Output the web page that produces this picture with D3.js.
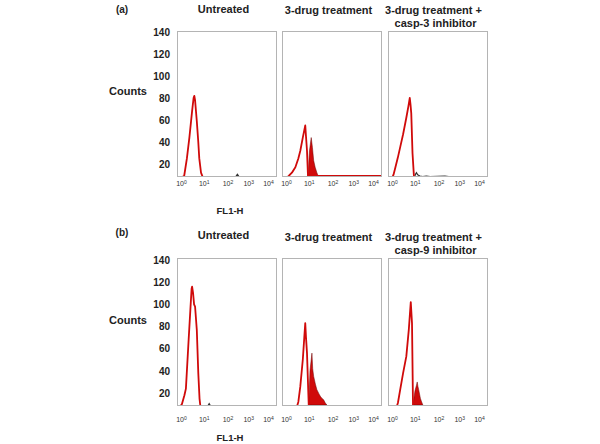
<!DOCTYPE html>
<html><head><meta charset="utf-8">
<script src="https://cdn.jsdelivr.net/npm/d3@7"></script>
<style>
html,body{margin:0;padding:0;background:#fff;}
svg{display:block;font-family:"Liberation Sans",Arial,sans-serif;}
</style></head>
<body><svg id="chart" width="600" height="444"></svg>
<script>
// ---------- data ----------
const rowLabels = ["(a)", "(b)"];
const titlesA = [["Untreated"], ["3-drug treatment"], ["3-drug treatment +", "casp-3 inhibitor"]];
const titlesB = [["Untreated"], ["3-drug treatment"], ["3-drug treatment +", "casp-9 inhibitor"]];
const yTicks = [20, 40, 60, 80, 100, 120, 140];
const xTicks = [1, 10, 100, 1000, 10000];
const xTickExponents = ["0", "1", "2", "3", "4"];
const yLabel = "Counts";
const xLabel = "FL1-H";

// points: [log10(FL1-H), counts]
// row (a)
const a1Line = [[0.20,8],[0.29,9],[0.40,25],[0.50,44],[0.61,68],[0.67,80],[0.70,82],[0.73,78],[0.80,59],[0.86,40],[0.90,25],[0.97,12],[1.04,8]];
const a1Dark = [[2.36,8],[2.44,10.5],[2.52,8]];
const a2Line = [[0.22,8],[0.27,9],[0.40,12],[0.54,17],[0.66,25],[0.74,32],[0.84,44],[0.94,55],[0.97,45],[1.01,32],[1.05,9],[1.50,9],[4.0,9]];
const a2Fill = [[1.05,8],[1.08,20],[1.11,32],[1.18,44],[1.23,35],[1.28,23],[1.34,17],[1.41,12],[1.48,8]];
const a3Line = [[0.18,8],[0.22,10],[0.30,17],[0.40,26],[0.50,36],[0.61,47],[0.74,62],[0.82,72],[0.88,80],[0.91,74],[0.94,66],[0.99,30],[1.05,8]];
const a3Dark = [[1.07,8],[1.11,10.5],[1.15,12],[1.20,10],[1.29,9],[1.40,8.5],[1.55,9],[1.70,8.5],[2.30,9],[2.45,8.5]];
// row (b)
const b1Line = [[0.16,9],[0.20,10],[0.30,18],[0.36,24],[0.47,68],[0.54,95],[0.59,114],[0.61,116],[0.65,110],[0.69,100],[0.73,98],[0.80,77],[0.86,38],[0.91,15],[0.94,9]];
const b1Dark = [[1.26,9],[1.30,10.5],[1.34,9]];
const b2Line = [[0.62,9],[0.66,12],[0.74,26],[0.84,50],[0.90,70],[0.94,83],[0.97,70],[1.01,56],[1.08,9]];
const b2Fill = [[1.08,9],[1.13,40],[1.21,56],[1.24,42],[1.28,35],[1.35,28],[1.41,23],[1.50,19],[1.55,17],[1.62,15],[1.68,14],[1.75,11],[1.82,9]];
const b3Line = [[0.37,9],[0.40,11],[0.50,24],[0.61,38],[0.74,53],[0.84,77],[0.92,102],[0.97,83],[1.01,9]];
const b3Fill = [[1.01,9],[1.05,16],[1.09,22],[1.15,27],[1.18,30],[1.21,26],[1.24,23],[1.31,15],[1.36,12],[1.41,9]];

// ---------- layout ----------
const svg = d3.select("#chart");
const panelLefts = [177, 282, 388];
const panelW = 99;
const rows = [
  {label: rowLabels[0], titles: titlesA, top: 31, bottom: 176, yDom: [9, 141], labY: 9, titleY: [9, 10, 10], xLabY: 184, fl1Y: 210,
   series: [{line: a1Line, dark: a1Dark}, {line: a2Line, fill: a2Fill}, {line: a3Line, dark: a3Dark}]},
  {label: rowLabels[1], titles: titlesB, top: 258, bottom: 405, yDom: [9.2, 141.8], labY: 232, titleY: [235, 237, 237], xLabY: 420, fl1Y: 437,
   series: [{line: b1Line, dark: b1Dark}, {line: b2Line, fill: b2Fill}, {line: b3Line, fill: b3Fill}]}
];
const red = "#d00a0a";

rows.forEach((row, ri) => {
  const g = svg.append("g");
  const y = d3.scaleLinear().domain(row.yDom).range([row.bottom, row.top]);

  g.append("text").attr("x", 122).attr("y", row.labY + 3.5).attr("text-anchor", "middle")
    .attr("font-size", 10).attr("font-weight", "bold").attr("fill", "#222").text(row.label);

  // y axis
  const ya = g.append("g").attr("transform", `translate(${panelLefts[0] - 7},0)`)
    .call(d3.axisLeft(y).tickValues(yTicks).tickSize(0).tickPadding(0));
  ya.select(".domain").remove();
  ya.selectAll("text").attr("font-size", 10).attr("font-weight", "bold").attr("fill", "#222")
    .attr("font-family", "Liberation Sans, Arial, sans-serif");

  g.append("text").attr("x", 128).attr("y", y(80) - 3).attr("text-anchor", "middle")
    .attr("font-size", 11).attr("font-weight", "bold").attr("fill", "#222").text(yLabel);

  g.append("text").attr("x", 230).attr("y", row.fl1Y + 3.5).attr("text-anchor", "middle")
    .attr("font-size", 9.5).attr("font-weight", "bold").attr("fill", "#222").text(xLabel);

  row.titles.forEach((lines, pi) => {
    const cx = panelLefts[pi] + panelW / 2 + (pi === 2 ? -4 : -3);
    lines.forEach((t, li) => {
      g.append("text").attr("x", cx + (li === 1 ? 2 : 0)).attr("y", row.titleY[pi] + 4 + li * 13)
        .attr("text-anchor", "middle").attr("font-size", 11).attr("font-weight", "bold")
        .attr("fill", "#222").text(t);
    });
  });

  panelLefts.forEach((left, pi) => {
    const x = d3.scaleLog().domain([1, 10000]).range([left, left + panelW]);
    const clipId = `clip-${ri}-${pi}`;
    g.append("clipPath").attr("id", clipId).append("rect")
      .attr("x", left).attr("y", row.top).attr("width", panelW).attr("height", row.bottom - row.top);

    // box
    g.append("rect").attr("x", left + 0.5).attr("y", row.top + 0.5).attr("width", panelW)
      .attr("height", row.bottom - row.top).attr("fill", "#fff").attr("stroke", "#b4b4b4").attr("stroke-width", 1);

    const s = row.series[pi];
    const px = d => x(Math.pow(10, d[0]));
    const pg = g.append("g").attr("clip-path", `url(#${clipId})`);
    if (s.fill) {
      pg.append("path").datum(s.fill)
        .attr("d", d3.area().x(px).y0(row.bottom).y1(d => y(d[1])))
        .attr("fill", red).attr("stroke", "#6a0505").attr("stroke-width", 0.5);
    }
    if (s.dark) {
      pg.append("path").datum(s.dark)
        .attr("d", d3.line().x(px).y(d => y(d[1])))
        .attr("fill", "none").attr("stroke", "#333").attr("stroke-width", 1.2);
    }
    pg.append("path").datum(s.line)
      .attr("d", d3.line().x(px).y(d => y(d[1])))
      .attr("fill", "none").attr("stroke", red).attr("stroke-width", 1.8).attr("stroke-linejoin", "round");

    // x axis labels
    const xa = g.append("g").attr("transform", `translate(0,${row.xLabY})`)
      .call(d3.axisBottom(x).tickValues(xTicks).tickSize(0).tickPadding(0).tickFormat(() => ""));
    xa.select(".domain").remove();
    const offs = [4, 2, 1, -3, -8];
    xa.selectAll(".tick text").each(function(d, i) {
      const t = d3.select(this).attr("y", 0).attr("dy", "0.35em").attr("dx", offs[i])
        .attr("font-size", 7).attr("fill", "#333").attr("font-family", "Liberation Sans, Arial, sans-serif");
      t.append("tspan").text("10");
      t.append("tspan").attr("font-size", 5).attr("dy", "-0.5em").text(xTickExponents[i]);
    });
  });
});
</script></body></html>
